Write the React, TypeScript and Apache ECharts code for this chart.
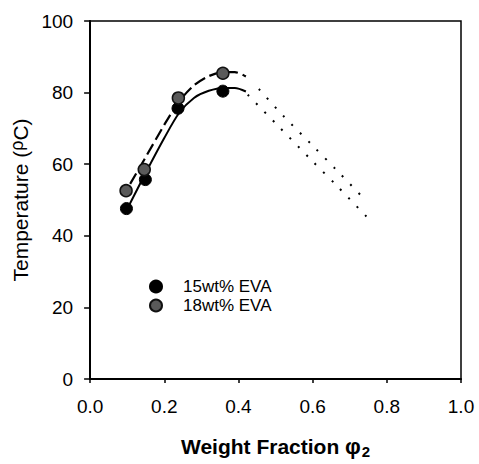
import React, { useEffect, useRef } from "react";
import * as echarts from "echarts";

// measured data points [weight fraction, temperature]
const eva15: number[][] = [[0.098, 47.6], [0.149, 55.7], [0.237, 75.6], [0.358, 80.4]];
const eva18: number[][] = [[0.097, 52.6], [0.146, 58.5], [0.238, 78.5], [0.358, 85.4]];

// fitted curves
const fit15: number[][] = [[0.1, 47.5], [0.15, 57.6], [0.2, 67.3], [0.24, 74.3], [0.28, 78.5], [0.32, 80.5], [0.36, 81.3], [0.39, 81.3], [0.42, 80.3]];
const fit18: number[][] = [[0.108, 54.5], [0.15, 62], [0.2, 71], [0.24, 77.5], [0.28, 82], [0.32, 84.6], [0.36, 85.7], [0.39, 85.7], [0.42, 84.5]];

// dotted extensions
const dotUpper: number[][] = [[0.455, 81], [0.52, 73.6], [0.6, 65.2], [0.665, 58.3], [0.74, 50.2]];
const dotLower: number[][] = [[0.425, 79.4], [0.505, 70.9], [0.6, 60.8], [0.665, 54], [0.755, 44.3]];

const seriesNames = ["15wt% EVA", "18wt% EVA"];
const xTicks = { min: 0, max: 1, interval: 0.2 };
const yTicks = { min: 0, max: 100, interval: 20 };

const FONT = "'Liberation Sans', Arial, sans-serif";

export default function App() {
  const ref = useRef<HTMLDivElement>(null);
  useEffect(() => {
    if (!ref.current) return;
    const chart = echarts.init(ref.current, undefined, { renderer: "svg" });
    chart.setOption({
      animation: false,
      backgroundColor: "#fff",
      textStyle: { fontFamily: FONT, color: "#000" },
      grid: { left: 87, right: 18, top: 21, bottom: 76, show: true, borderColor: "#000", borderWidth: 1.5 },
      legend: {
        data: seriesNames,
        orient: "vertical",
        left: 144,
        top: 273,
        icon: "circle",
        itemWidth: 12,
        itemHeight: 12,
        itemGap: 2,
        textStyle: { fontSize: 17, color: "#000", fontFamily: FONT, padding: [0, 0, 0, 16], lineHeight: 14 },
      },
      xAxis: {
        type: "value",
        min: xTicks.min,
        max: xTicks.max,
        interval: xTicks.interval,
        name: "Weight Fraction {phi|φ}{sub|2}",
        nameLocation: "middle",
        nameGap: 55,
        nameTextStyle: {
          fontSize: 21,
          fontWeight: "bold",
          color: "#000",
          fontFamily: FONT,
          rich: {
            phi: { fontSize: 22, fontWeight: "bold", color: "#000", fontFamily: FONT },
            sub: { fontSize: 15, fontWeight: "bold", color: "#000", fontFamily: FONT, padding: [10, 0, 0, 1] },
          },
        },
        axisLine: { show: true, lineStyle: { color: "#000", width: 2 } },
        axisTick: { show: true, inside: false, length: 4, lineStyle: { color: "#000", width: 1.5 } },
        splitLine: { show: false },
        axisLabel: {
          fontSize: 19,
          color: "#000",
          fontFamily: FONT,
          margin: 18,
          formatter: (v: number) => v.toFixed(1),
        },
      },
      yAxis: {
        type: "value",
        min: yTicks.min,
        max: yTicks.max,
        interval: yTicks.interval,
        name: "Temperature ({sup|ρ}C)",
        nameLocation: "middle",
        nameGap: 55,
        nameTextStyle: {
          fontSize: 21,
          color: "#000",
          fontFamily: FONT,
          rich: {
            sup: { fontSize: 18, color: "#000", fontFamily: FONT, padding: [0, 0, 6, 0] },
          },
        },
        axisLine: { show: true, lineStyle: { color: "#000", width: 2 } },
        axisTick: { show: true, inside: false, length: 6, lineStyle: { color: "#000", width: 1.5 } },
        splitLine: { show: false },
        axisLabel: { fontSize: 19, color: "#000", fontFamily: FONT, margin: 17 },
      },
      series: [
        {
          name: "fit15",
          type: "line",
          data: fit15,
          smooth: 0.3,
          showSymbol: false,
          symbol: "none",
          lineStyle: { color: "#000", width: 2 },
          z: 2,
        },
        {
          name: "fit18",
          type: "line",
          data: fit18,
          smooth: 0.3,
          showSymbol: false,
          symbol: "none",
          lineStyle: { color: "#000", width: 2.2, type: [12, 5] },
          z: 2,
        },
        {
          name: "dotUpper",
          type: "line",
          data: dotUpper,
          smooth: 0.3,
          symbol: "none",
          lineStyle: { color: "#000", width: 2, type: [2, 10] },
          z: 2,
        },
        {
          name: "dotLower",
          type: "line",
          data: dotLower,
          smooth: 0.3,
          symbol: "none",
          lineStyle: { color: "#000", width: 2, type: [2, 10] },
          z: 2,
        },
        {
          name: seriesNames[0],
          type: "scatter",
          data: eva15,
          symbol: "circle",
          symbolSize: 12,
          itemStyle: { color: "#000", borderColor: "#000", borderWidth: 1, opacity: 1 },
          z: 3,
        },
        {
          name: seriesNames[1],
          type: "scatter",
          data: eva18,
          symbol: "circle",
          symbolSize: 12,
          itemStyle: { color: "#5a5a5a", borderColor: "#111", borderWidth: 1.5, opacity: 1 },
          z: 4,
        },
      ],
    });
    return () => chart.dispose();
  }, []);
  return <div ref={ref} style={{ width: 479, height: 464, position: "absolute", left: 0, top: 0 }} />;
}
